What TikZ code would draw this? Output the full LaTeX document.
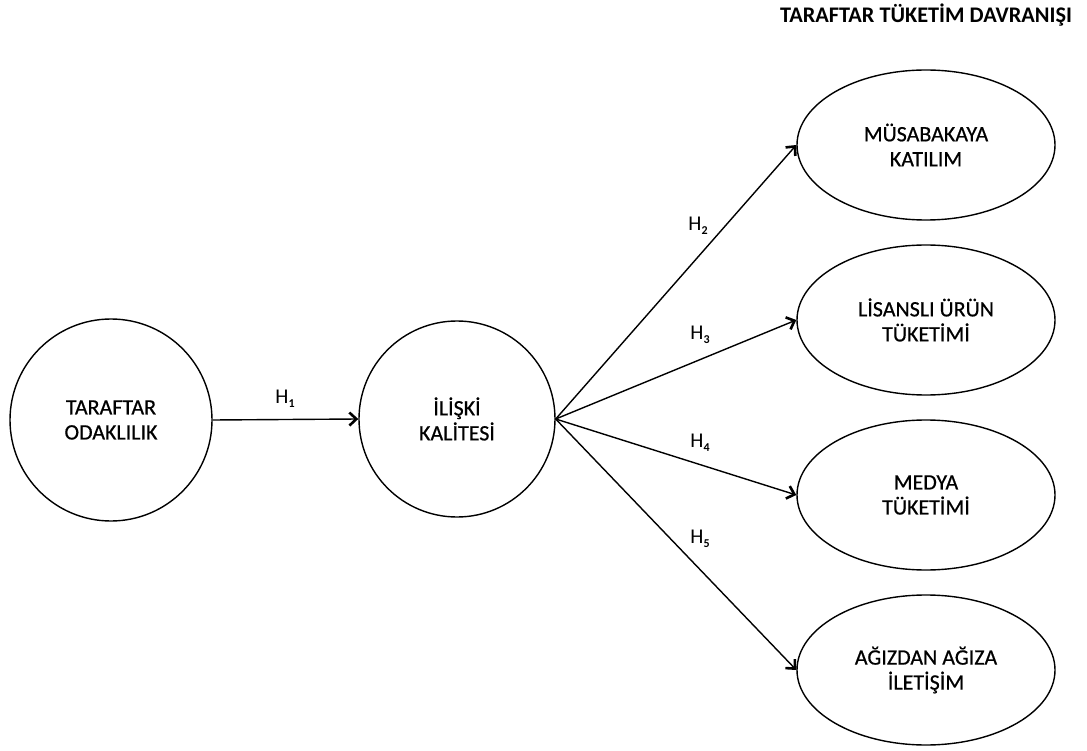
\documentclass[tikz,border=0pt]{standalone}
\usepackage{fontspec}
\setmainfont{Carlito}
\newfontfamily\medfont{Carlito}[FakeBold=0.6]
\usetikzlibrary{shapes.geometric,arrows.meta}
\newcommand{\hsub}[1]{H\raisebox{-0.45ex}{\fontsize{12}{12}\selectfont\bfseries #1}}
\begin{document}
\begin{tikzpicture}[x=1pt,y=-1pt,
  circ/.style={circle,draw,line width=1.4pt,inner sep=0pt,align=center,font=\medfont\fontsize{22}{25}\selectfont},
  ell/.style={ellipse,draw,line width=1.4pt,inner sep=0pt,minimum width=258pt,minimum height=150pt,align=center,font=\medfont\fontsize{22}{25}\selectfont},
  conn/.style={line width=1.4pt,-{Straight Barb[length=7pt,width=13pt,line width=2.6pt]}},
  hlab/.style={font=\fontsize{21}{24}\selectfont,inner sep=0pt}]
\useasboundingbox (0,0) rectangle (1087,751);
\node[font=\bfseries\fontsize{22.3}{26}\selectfont] (title) at (926,15) {TARAFTAR TÜKETİM DAVRANIŞI};
\node[circ,minimum size=202pt] (to) at (111,420) {TARAFTAR\\ODAKLILIK};
\node[circ,minimum size=196pt] (ik) at (457,419) {İLİŞKİ\\KALİTESİ};
\node[ell] (e1) at (926,145) {MÜSABAKAYA\\KATILIM};
\node[ell] (e2) at (926,320) {LİSANSLI ÜRÜN\\TÜKETİMİ};
\node[ell] (e3) at (926,495) {MEDYA\\TÜKETİMİ};
\node[ell] (e4) at (926,670) {AĞIZDAN AĞIZA\\İLETİŞİM};
\draw[conn] (to.east) -- (ik.west);
\draw[conn] (ik.east) -- (e1.west);
\draw[conn] (ik.east) -- (e2.west);
\draw[conn] (ik.east) -- (e3.west);
\draw[conn] (ik.east) -- (e4.west);
\node[hlab] (h1) at (285,399) {\hsub{1}};
\node[hlab] (h2) at (698,226) {\hsub{2}};
\node[hlab] (h3) at (700,335) {\hsub{3}};
\node[hlab] (h4) at (700,443) {\hsub{4}};
\node[hlab] (h5) at (700,539) {\hsub{5}};
\end{tikzpicture}
\end{document}
